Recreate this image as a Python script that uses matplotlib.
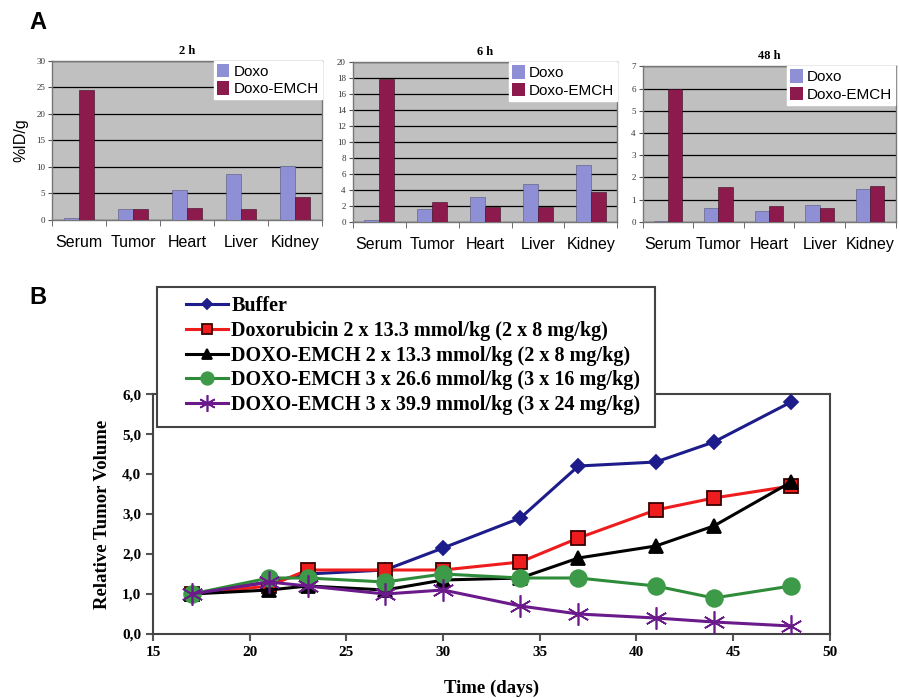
import numpy as np
import matplotlib
matplotlib.use("Agg")
import matplotlib.pyplot as plt
from matplotlib.patches import Patch, Rectangle

# Panel A data (%ID/g)
organs = ["Serum", "Tumor", "Heart", "Liver", "Kidney"]
times = ["2 h", "6 h", "48 h"]
doxo_2h = [0.3, 2.0, 5.6, 8.6, 10.1]
emch_2h = [24.5, 2.0, 2.3, 2.1, 4.4]
doxo_6h = [0.2, 1.6, 3.1, 4.8, 7.1]
emch_6h = [17.9, 2.5, 1.9, 1.9, 3.8]
doxo_48h = [0.05, 0.65, 0.5, 0.75, 1.5]
emch_48h = [6.0, 1.55, 0.7, 0.65, 1.6]
ymax_a = [30, 20, 7]
ystep_a = [5, 2, 1]

# Panel B data (relative tumor volume)
days = [17, 21, 23, 27, 30, 34, 37, 41, 44, 48]
buffer_v = [1.0, 1.3, 1.5, 1.6, 2.15, 2.9, 4.2, 4.3, 4.8, 5.8]
doxorubicin = [1.0, 1.2, 1.6, 1.6, 1.6, 1.8, 2.4, 3.1, 3.4, 3.7]
emch_2x13 = [1.0, 1.1, 1.2, 1.1, 1.35, 1.4, 1.9, 2.2, 2.7, 3.8]
emch_3x26 = [1.0, 1.4, 1.4, 1.3, 1.5, 1.4, 1.4, 1.2, 0.9, 1.2]
emch_3x39 = [1.0, 1.3, 1.2, 1.0, 1.1, 0.7, 0.5, 0.4, 0.3, 0.2]
series_labels = ["Buffer",
                 "Doxorubicin 2 x 13.3 mmol/kg (2 x 8 mg/kg)",
                 "DOXO-EMCH 2 x 13.3 mmol/kg (2 x 8 mg/kg)",
                 "DOXO-EMCH 3 x 26.6 mmol/kg (3 x 16 mg/kg)",
                 "DOXO-EMCH 3 x 39.9 mmol/kg (3 x 24 mg/kg)"]

doxo_col = "#8f8fd6"
emch_col = "#8c1a4c"
serif = "Liberation Serif"
sans = "Liberation Sans"

W, H = 900, 698
fig = plt.figure(figsize=(9, 6.98), dpi=100)

positions = [[0.058, 0.685, 0.300, 0.228],
             [0.392, 0.682, 0.294, 0.229],
             [0.714, 0.682, 0.281, 0.223]]
doxo_all = [doxo_2h, doxo_6h, doxo_48h]
emch_all = [emch_2h, emch_6h, emch_48h]

x = np.arange(len(organs))
w = 0.28
for i in range(3):
    ax = fig.add_axes(positions[i])
    ax.set_facecolor("#c0c0c0")
    ax.bar(x - w / 2, doxo_all[i], w, color=doxo_col, edgecolor="#55557a", linewidth=0.4, zorder=3)
    ax.bar(x + w / 2, emch_all[i], w, color=emch_col, edgecolor="#3a0a20", linewidth=0.4, zorder=3)
    ax.set_xlim(-0.5, 4.5)
    ax.set_ylim(0, ymax_a[i])
    yt = np.arange(0, ymax_a[i] + 0.01, ystep_a[i])
    ax.set_yticks(yt)
    ax.set_yticklabels([str(int(v)) for v in yt], fontsize=6.5, family=serif, color="#333333")
    ax.yaxis.grid(True, color="black", linewidth=0.9, zorder=1)
    ax.set_xticks(x)
    ax.set_xticklabels(organs, fontsize=11.5, family=sans)
    ax.set_xticks(np.arange(-0.5, 5, 1), minor=True)
    ax.tick_params(axis="x", which="major", length=0, pad=11)
    ax.tick_params(axis="x", which="minor", length=4, color="#555555")
    ax.tick_params(axis="y", length=3, pad=2, color="#555555")
    for s in ax.spines.values():
        s.set_color("#777777")
        s.set_linewidth(1.0)
    ax.set_title(times[i], fontsize=9, family=serif, fontweight="bold", pad=5)
    leg = ax.legend(handles=[Patch(facecolor=doxo_col, label="Doxo"),
                             Patch(facecolor=emch_col, label="Doxo-EMCH")],
                    loc="upper right", frameon=True, fancybox=False,
                    borderpad=0.2, handlelength=0.8, handleheight=1.0, handletextpad=0.3,
                    labelspacing=0.15, borderaxespad=0.0, prop={"family": sans, "size": 11})
    leg.get_frame().set_edgecolor("white")
    leg.get_frame().set_alpha(1)
    if i == 0:
        ax.set_ylabel("%ID/g", fontsize=11.5, family=sans, labelpad=6)

fig.text(0.033, 0.968, "A", fontsize=17, fontweight="bold", family=sans, va="center")
fig.text(0.033, 0.574, "B", fontsize=17, fontweight="bold", family=sans, va="center")

# Panel B
axb = fig.add_axes([0.170, 0.0917, 0.752, 0.3438])
styles = [
    (buffer_v, "#1c1c8a", "D", 7, "#1c1c8a", "#1c1c8a", 1.3),
    (doxorubicin, "#ee1c1c", "s", 10, "#ee1c1c", "#3a0000", 1.3),
    (emch_2x13, "black", "^", 10, "black", "black", 1.3),
    (emch_3x26, "#2e8b3a", "o", 12, "#3c9a48", "#3c9a48", 1.3),
    (emch_3x39, "#6a1a8a", (6, 2, 0), 16, "#6a1a8a", "#6a1a8a", 1.2),
]
handles = []
for (vals, col, mk, ms, fc, ec, mew), lab in zip(styles, series_labels):
    h, = axb.plot(days, vals, color=col, linewidth=2.2, marker=mk, markersize=ms,
                  markerfacecolor=fc, markeredgecolor=ec, markeredgewidth=mew,
                  label=lab, zorder=3)
    handles.append(h)
axb.set_xlim(15, 50)
axb.set_ylim(0, 6)
axb.set_xticks(range(15, 51, 5))
axb.set_yticks(range(0, 7))
axb.set_xticklabels([str(v) for v in range(15, 51, 5)], fontsize=11, family=serif, fontweight="bold")
axb.set_yticklabels(["%d,0" % v for v in range(0, 7)], fontsize=11, family=serif, fontweight="bold")
axb.tick_params(length=5, width=1.5, color="#555555")
for s in axb.spines.values():
    s.set_linewidth(1.5)
    s.set_color("#444444")
axb.set_xlabel("Time (days)", fontsize=13.5, family=serif, fontweight="bold", labelpad=15)
axb.set_ylabel("Relative Tumor Volume", fontsize=13.5, family=serif, fontweight="bold", labelpad=8)

# legend box of panel B (frame drawn separately in pixel coords)
box = Rectangle((157 / W, 1 - 427 / H), (655 - 157) / W, (427 - 287) / H,
                transform=fig.transFigure, facecolor="white", edgecolor="#444444",
                linewidth=1.5, zorder=9)
fig.patches.append(box)
legb = fig.legend(handles=handles, loc="upper left", bbox_to_anchor=(186 / W, 1 - 296 / H),
                  frameon=False, handlelength=2.1, handletextpad=0.15,
                  labelspacing=0.24, borderpad=0.0, borderaxespad=0.0, markerscale=0.75,
                  prop={"family": serif, "size": 14.5, "weight": "bold"})
legb.set_zorder(10)

fig.savefig("out.png", dpi=100)
